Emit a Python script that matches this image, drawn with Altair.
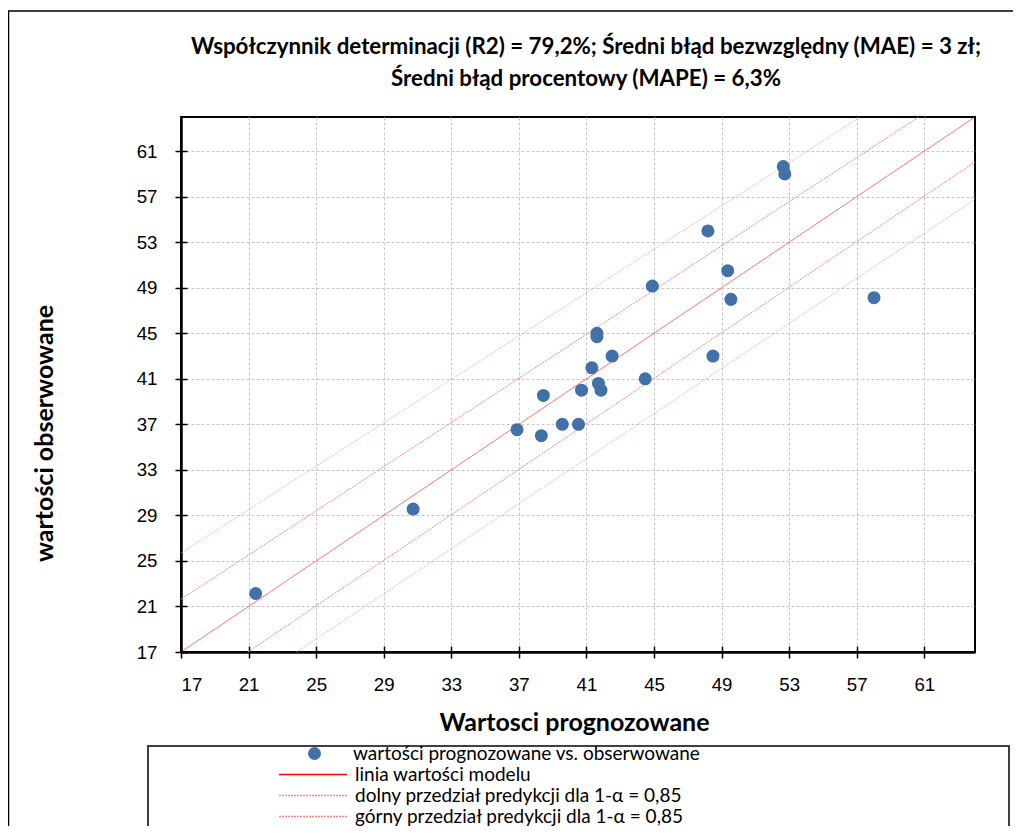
import altair as alt
import pandas as pd

# ---- data ----
pred = [52.65, 52.74, 48.19, 49.36, 44.90, 49.55, 58.02, 41.62, 41.62, 42.52, 48.49,
        41.32, 44.48, 41.71, 41.86, 40.71, 38.45, 36.89, 38.33, 39.57, 40.53, 30.74, 21.42]
obs = [59.65, 59.00, 53.99, 50.50, 49.15, 47.98, 48.13, 44.99, 44.70, 43.00, 43.00,
       41.97, 41.00, 40.59, 40.00, 40.00, 39.54, 36.53, 36.00, 37.00, 37.00, 29.56, 22.14]

model_x = [17, 64]
model_y = [17, 64]
lower_x = [23.85, 64]
lower_y = [17, 56.75]
upper_x = [17, 57.2]
upper_y = [25.7, 64]
inner_lower_x = [20.95, 64]
inner_lower_y = [17, 60.05]
inner_upper_x = [17, 60.67]
inner_upper_y = [21.64, 64]

tick_values = [17, 21, 25, 29, 33, 37, 41, 45, 49, 53, 57, 61]
x_domain = [17, 64]
y_domain = [17, 64]

point_label = "wartości prognozowane vs. obserwowane"
model_label = "linia wartości modelu"
lower_label = "dolny przedział predykcji dla 1-α = 0,85"
upper_label = "górny przedział predykcji dla 1-α = 0,85"
title_lines = ["Współczynnik determinacji (R2) = 79,2%; Średni błąd bezwzględny (MAE) = 3 zł;",
               "Średni błąd procentowy (MAPE) = 6,3%"]
x_title = "Wartosci prognozowane"
y_title = "wartości obserwowane"

# ---- styles ----
BLUE = "#4271AA"
RED = "#FF0000"
PINK = "#FF8585"
TITLE_FONT = "Lato"
TICK_FONT = "Liberation Sans"
LEG_X = 97
LEG_Y = 626
ROW = 21
LEG_FS = 19

points_df = pd.DataFrame({"x": pred, "y": obs, "kind": point_label})
lines_df = pd.DataFrame({
    "x": model_x + lower_x + upper_x,
    "y": model_y + lower_y + upper_y,
    "series": [model_label] * 2 + [lower_label] * 2 + [upper_label] * 2,
})
inner_df = pd.DataFrame({
    "x": inner_lower_x + inner_upper_x,
    "y": inner_lower_y + inner_upper_y,
    "seg": ["ilo"] * 2 + ["iup"] * 2,
})
one = pd.DataFrame({"a": [0]})

xs = alt.Scale(domain=x_domain, nice=False, zero=False)
ys = alt.Scale(domain=y_domain, nice=False, zero=False)

main_x_axis = alt.Axis(values=tick_values, orient="bottom", title=x_title, grid=True,
                       tickSize=6, labelPadding=17, titleFont=TITLE_FONT, titleFontSize=25,
                       titleFontWeight="bold", titleX=393, titleY=78, titleAlign="center",
                       titleBaseline="alphabetic")
main_y_axis = alt.Axis(values=tick_values, orient="left", title=y_title, grid=True,
                       tickSize=6, labelPadding=18, titleFont=TITLE_FONT, titleFontSize=25,
                       titleFontWeight="bold", titleAngle=270, titleX=-137, titleY=316,
                       titleAlign="center", titleBaseline="middle")
inner_x_axis = alt.Axis(values=tick_values, orient="bottom", offset=-6, labels=False,
                        domain=False, grid=False, title=None, tickSize=6)
inner_y_axis = alt.Axis(values=tick_values, orient="left", offset=-6, labels=False,
                        domain=False, grid=False, title=None, tickSize=6)

frame = alt.Chart(one).mark_rect(fill="transparent", stroke="black", strokeWidth=1.5).encode(
    x=alt.value(-172.5), x2=alt.value(900), y=alt.value(-106), y2=alt.value(800))
legend_box = alt.Chart(one).mark_rect(fill="white", stroke="#404040", strokeWidth=2).encode(
    x=alt.value(-33), x2=alt.value(828), y=alt.value(629), y2=alt.value(800))

inner = alt.Chart(inner_df).mark_line(color=PINK, strokeWidth=1, strokeDash=[2, 1]).encode(
    x=alt.X("x:Q", scale=xs, axis=inner_x_axis),
    y=alt.Y("y:Q", scale=ys, axis=inner_y_axis),
    detail="seg:N",
)

line_legend = alt.Legend(orient="none", legendX=LEG_X, legendY=LEG_Y + ROW, title=None,
                         labelFont=TITLE_FONT, labelFontSize=LEG_FS, labelColor="black",
                         labelLimit=0, labelOffset=7, rowPadding=0, clipHeight=ROW,
                         symbolType="stroke", symbolSize=4624, symbolStrokeWidth=1.5,
                         padding=0)
lines = alt.Chart(lines_df).mark_line(strokeWidth=0.6).encode(
    x=alt.X("x:Q", scale=xs, axis=None),
    y=alt.Y("y:Q", scale=ys, axis=None),
    stroke=alt.Stroke("series:N",
                      scale=alt.Scale(domain=[model_label, lower_label, upper_label],
                                      range=[RED, PINK, PINK]),
                      legend=line_legend),
    strokeDash=alt.StrokeDash("series:N",
                              scale=alt.Scale(domain=[model_label, lower_label, upper_label],
                                              range=[[1, 0], [2, 1], [2, 1]]),
                              legend=line_legend),
)

points = alt.Chart(points_df).mark_circle(size=170, opacity=1).encode(
    x=alt.X("x:Q", scale=xs, axis=main_x_axis),
    y=alt.Y("y:Q", scale=ys, axis=main_y_axis),
    fill=alt.Fill("kind:N",
                  scale=alt.Scale(domain=[point_label], range=[BLUE]),
                  legend=alt.Legend(orient="none", legendX=LEG_X, legendY=LEG_Y, title=None,
                                    labelFont=TITLE_FONT, labelFontSize=LEG_FS,
                                    labelColor="black", labelLimit=0, labelOffset=29,
                                    symbolOffset=27, clipHeight=ROW, symbolType="circle",
                                    symbolSize=169, symbolOpacity=1, padding=0)),
)

chart = alt.layer(frame, legend_box, inner, lines, points).resolve_axis(
    x="independent", y="independent"
).properties(
    width=794, height=535,
    padding={"left": 173, "top": 109, "right": 38, "bottom": 174},
    autosize=alt.AutoSizeParams(type="none"),
    title=alt.TitleParams(text=title_lines, font=TITLE_FONT, fontSize=22.3, fontWeight="bold",
                          anchor="middle", frame="group", dx=8, offset=-80, lineHeight=32,
                          color="black"),
).configure_view(stroke="black", strokeWidth=2).configure_axis(
    labelFont=TICK_FONT, labelFontSize=18.67, labelColor="black",
    tickColor="black", tickWidth=1.5, domainColor="black", domainWidth=2.5,
    gridColor="#C8C8C8", gridDash=[3, 2], gridWidth=1, titleColor="black",
)

chart.save("out.html", embed_options={"renderer": "svg", "actions": False})
